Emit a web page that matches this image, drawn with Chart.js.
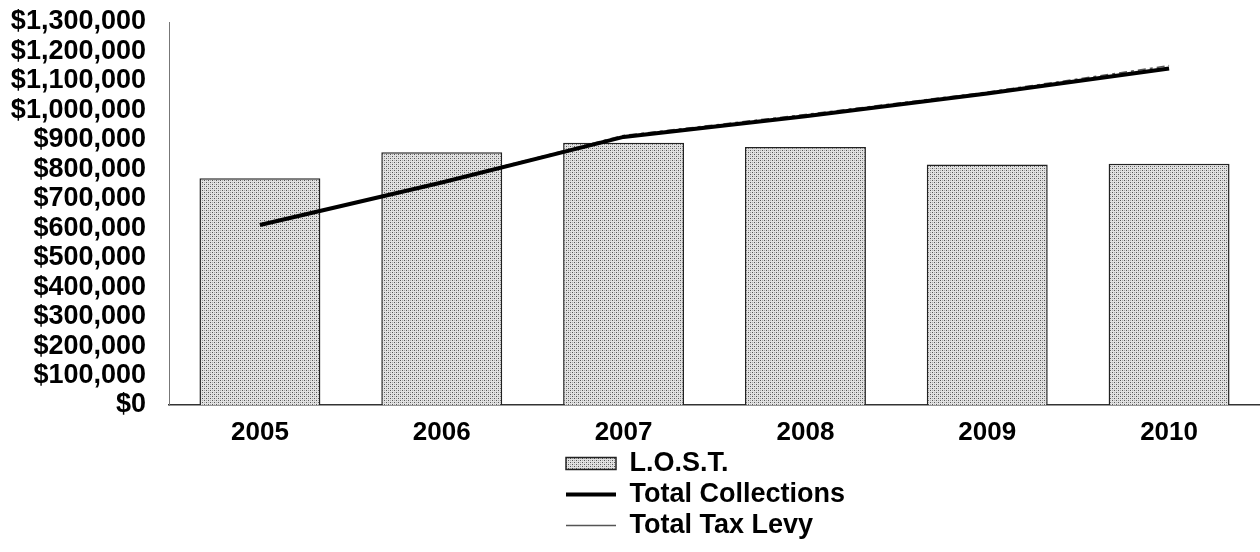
<!DOCTYPE html>
<html>
<head>
<meta charset="utf-8">
<script src="https://cdn.jsdelivr.net/npm/chart.js@4"></script>
<style>
  html, body { margin: 0; padding: 0; background: #fff; overflow: hidden; }
  #wrap { width: 1260px; height: 552px; }
</style>
</head>
<body>
<div id="wrap"><canvas id="lostChart"></canvas></div>
<script>
// values
const years = ['2005', '2006', '2007', '2008', '2009', '2010'];
const lost = [770000, 858000, 890000, 876000, 816000, 819000];
const totalCollections = [611000, 755000, 910000, 980000, 1057000, 1142000];
const totalTaxLevy = [611000, 757000, 915000, 986000, 1062000, 1152000];
const yMin = 0;
const yMax = 1300000;
const yStep = 100000;

const fontFamily = '"Liberation Sans", Arial, sans-serif';

// stippled grey fill like the printed bars
const makeStipple = () => {
  const c = document.createElement('canvas');
  c.width = 4; c.height = 4;
  const g = c.getContext('2d');
  g.fillStyle = '#e2e2e2';
  g.fillRect(0, 0, 4, 4);
  g.fillStyle = '#555';
  g.fillRect(0, 0, 1, 1);
  g.fillRect(2, 2, 1, 1);
  g.fillStyle = '#aaa';
  g.fillRect(2, 0, 1, 1);
  g.fillRect(0, 2, 1, 1);
  return g.createPattern(c, 'repeat');
};

// legend: one item per row, placed under the middle of the plot
const legendStack = {
  id: 'legendStack',
  beforeLayout(chart) {
    const lg = chart.legend;
    if (lg && !lg._narrow) {
      const orig = lg.update.bind(lg);
      lg.update = (w, h, m) => orig(Math.min(w, 330), h, m);
      lg._narrow = true;
    }
  },
  afterLayout(chart) {
    chart.legend.left = 562;
    chart.legend.right = 562 + 330;
  }
};

const ctx = document.querySelector('#lostChart');
const chart = new Chart(ctx, {
  type: 'bar',
  data: {
    labels: years,
    datasets: [{
      type: 'bar',
      label: 'L.O.S.T.',
      data: lost,
      backgroundColor: makeStipple(),
      borderColor: '#222',
      borderWidth: 1.5,
      borderSkipped: 'bottom',
      barPercentage: 0.665,
      categoryPercentage: 1,
      pointStyle: 'rect',
      order: 3
    }, {
      type: 'line',
      label: 'Total Collections',
      data: totalCollections,
      borderColor: '#000',
      backgroundColor: '#000',
      borderWidth: 4,
      pointRadius: 0,
      tension: 0,
      pointStyle: 'line',
      order: 1
    }, {
      type: 'line',
      label: 'Total Tax Levy',
      data: totalTaxLevy,
      borderColor: '#555',
      backgroundColor: '#555',
      borderWidth: 1.5,
      borderDash: [8, 4, 3, 4],
      pointRadius: 0,
      tension: 0,
      pointStyle: 'line',
      order: 2
    }]
  },
  options: {
    responsive: true,
    maintainAspectRatio: false,
    animation: false,
    layout: { padding: { top: 22, left: 10, right: 0, bottom: 3 } },
    scales: {
      x: {
        grid: { display: false, drawTicks: false },
        border: { display: true, color: '#333', width: 1.5 },
        afterFit: (scale) => { scale.height = 41; },
        ticks: {
          color: '#000',
          padding: 15,
          font: { family: fontFamily, size: 26, weight: 'bold', lineHeight: 1 }
        }
      },
      y: {
        min: yMin,
        max: yMax,
        grid: { display: false, drawTicks: false },
        border: { display: true, color: '#777', width: 1 },
        afterFit: (scale) => {
          scale.width = 159;
          scale.paddingTop = 0;
          scale.paddingBottom = 0;
        },
        ticks: {
          stepSize: yStep,
          autoSkip: false,
          color: '#000',
          padding: 23,
          font: { family: fontFamily, size: 27, weight: 'bold', lineHeight: 1 },
          callback: (v) => '$' + v.toLocaleString('en-US')
        }
      }
    },
    plugins: {
      tooltip: { enabled: false },
      legend: {
        position: 'bottom',
        align: 'start',
        labels: {
          color: '#000',
          usePointStyle: true,
          pointStyleWidth: 50,
          boxHeight: 12,
          padding: 4,
          font: { family: fontFamily, size: 27, weight: 'bold' },
          sort: (a, b) => a.datasetIndex - b.datasetIndex
        }
      }
    }
  },
  plugins: [legendStack]
});
</script>
</body>
</html>
